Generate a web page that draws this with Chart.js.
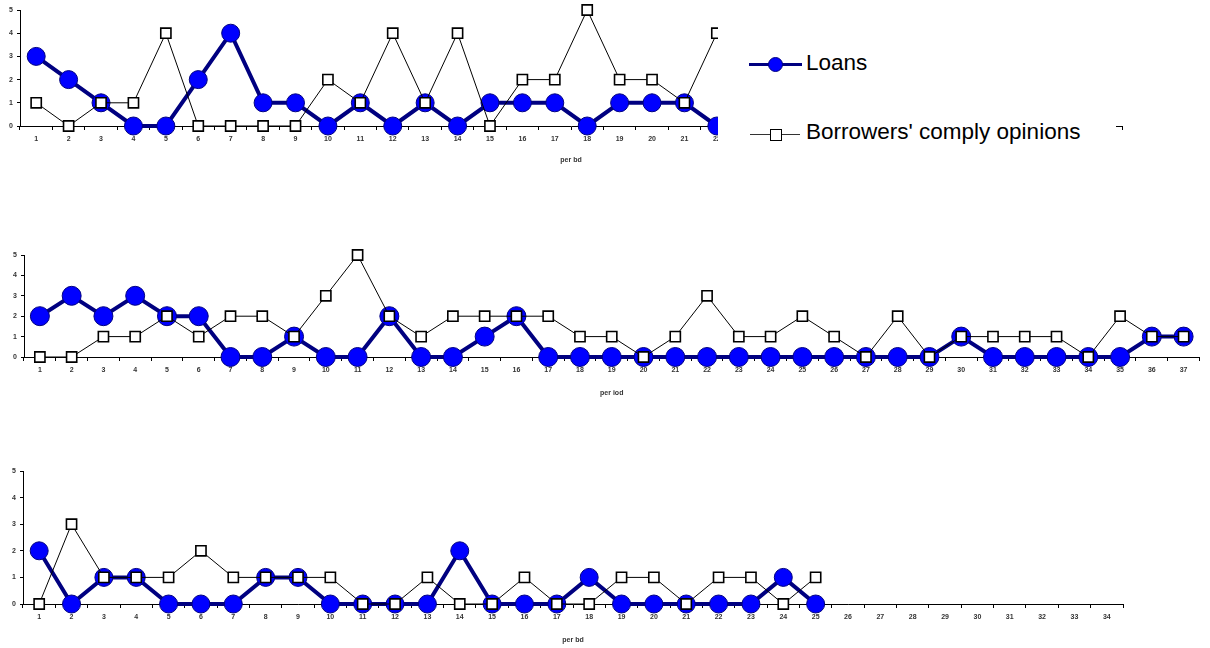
<!DOCTYPE html>
<html>
<head>
<meta charset="utf-8">
<script src="https://cdn.jsdelivr.net/npm/chart.js@4.4.0/dist/chart.umd.min.js"></script>
<style>
  body { margin: 0; background: #fff; width: 1210px; height: 648px; overflow: hidden; position: relative;
         font-family: "Liberation Sans", Arial, sans-serif; }
  canvas { position: absolute; left: 0; }
  #legend { position: absolute; left: 718px; top: 0; width: 398px; height: 146px; background: #fff; }
  #legend .ln { position: absolute; }
  #legend .txt { position: absolute; left: 88px; font-size: 22.5px; line-height: 26px; color: #000; white-space: nowrap; }
</style>
</head>
<body>
<canvas id="chartTop" width="1210" height="164" style="top:0px"></canvas>
<canvas id="chartMid" width="1210" height="157" style="top:240px"></canvas>
<canvas id="chartBot" width="1210" height="189" style="top:455px"></canvas>

<div id="legend">
  <div class="ln" style="left:31px;top:63px;width:53px;height:3px;background:#000080"></div>
  <div class="ln" style="left:50px;top:57px;width:15px;height:15px;border-radius:50%;background:#0000ff;border:1px solid #000080;box-sizing:border-box"></div>
  <div class="txt" style="top:50px">Loans</div>
  <div class="ln" style="left:32px;top:134px;width:50px;height:1px;background:#333"></div>
  <div class="ln" style="left:52px;top:129px;width:12px;height:12px;background:#fff;border:1.5px solid #000;box-sizing:border-box"></div>
  <div class="txt" style="top:119px">Borrowers' comply opinions</div>
</div>

<script>
// 每期資料
var periodsTop = ['1','2','3','4','5','6','7','8','9','10','11','12','13','14','15','16','17',
                  '18','19','20','21','22','23','24','25','26','27','28','29','30','31','32','33','34'];
var loansTop     = [3,2,1,0,0,2,4,1,1,0,1,0,1,0,1,1,1,0,1,1,1,0];
var borrowersTop = [1,0,1,1,4,0,0,0,0,2,1,4,1,4,0,2,2,5,2,2,1,4];

var periodsMid = ['1','2','3','4','5','6','7','8','9','10','11','12','13','14','15','16','17','18','19',
                  '20','21','22','23','24','25','26','27','28','29','30','31','32','33','34','35','36','37'];
var loansMid     = [2,3,2,3,2,2,0,0,1,0,0,2,0,0,1,2,0,0,0,0,0,0,0,0,0,0,0,0,0,1,0,0,0,0,0,1,1];
var borrowersMid = [0,0,1,1,2,1,2,2,1,3,5,2,1,2,2,2,2,1,1,0,1,3,1,1,2,1,0,2,0,1,1,1,1,0,2,1,1];

var periodsBot = ['1','2','3','4','5','6','7','8','9','10','11','12','13','14','15','16','17',
                  '18','19','20','21','22','23','24','25','26','27','28','29','30','31','32','33','34'];
var loansBot     = [2,0,1,1,0,0,0,1,1,0,0,0,0,2,0,0,0,1,0,0,0,0,0,1,0];
var borrowersBot = [0,3,1,1,1,2,1,1,1,1,0,0,1,0,0,1,0,0,1,1,0,1,1,0,1];

var yMin = 0, yMax = 5, yStep = 1;

var FONT = '"Liberation Sans", Arial, sans-serif';

function makeChart(canvasId, labels, loans, borrowers, axisTitle, cfg) {
  var ctx = document.getElementById(canvasId).getContext('2d');
  return new Chart(ctx, {
    type: 'line',
    data: {
      labels: labels,
      datasets: [
        {
          label: 'Loans',
          data: loans,
          order: 1,
          borderColor: '#000080',
          borderWidth: 4,
          backgroundColor: '#0000ff',
          pointBackgroundColor: '#0000ff',
          pointBorderColor: '#000080',
          pointBorderWidth: 1,
          pointRadius: cfg.radius,
          pointStyle: 'circle',
          tension: 0,
          clip: false
        },
        {
          label: "Borrowers' comply opinions",
          data: borrowers,
          order: 0,
          borderColor: '#000',
          borderWidth: 1,
          backgroundColor: '#fff',
          pointBackgroundColor: '#fff',
          pointBorderColor: '#000',
          pointBorderWidth: 1.6,
          pointRadius: 7.2,
          pointStyle: 'rect',
          tension: 0,
          clip: false
        }
      ]
    },
    options: {
      responsive: false,
      animation: false,
      events: [],
      layout: { padding: cfg.padding },
      plugins: { legend: { display: false }, tooltip: { enabled: false } },
      scales: {
        x: {
          type: 'category',
          offset: true,
          grid: { display: true, offset: true, drawOnChartArea: false, drawTicks: true, tickLength: 4, color: '#000' },
          border: { display: true, color: '#000', width: 1 },
          ticks: { autoSkip: false, maxRotation: 0, padding: 5, color: '#333',
                   font: { family: FONT, size: 7, weight: 'bold' } },
          title: { display: true, text: axisTitle, color: '#333', padding: 0,
                   font: { family: FONT, size: 7, weight: 'bold' } },
          afterFit: function(s) { s.height = cfg.xHeight; }
        },
        y: {
          min: yMin, max: yMax,
          grid: { display: true, drawOnChartArea: false, drawTicks: true, tickLength: 3, color: '#000' },
          border: { display: true, color: '#000', width: 1 },
          ticks: { stepSize: yStep, padding: 4, color: '#333',
                   font: { family: FONT, size: 7, weight: 'bold' } },
          afterFit: function(s) { s.width = cfg.yWidth; }
        }
      }
    }
  });
}

makeChart('chartTop', periodsTop, loansTop, borrowersTop, 'per bd',
  { padding: { top: 10, right: 88, left: 0, bottom: 0 }, yWidth: 20, xHeight: 38, radius: 9 });
makeChart('chartMid', periodsMid, loansMid, borrowersMid, 'per iod',
  { padding: { top: 15, right: 7, left: 0, bottom: 0 }, yWidth: 24, xHeight: 40, radius: 9.5 });
makeChart('chartBot', periodsBot, loansBot, borrowersBot, 'per bd',
  { padding: { top: 16, right: 87, left: 0, bottom: 0 }, yWidth: 23, xHeight: 40, radius: 9 });
</script>
</body>
</html>
